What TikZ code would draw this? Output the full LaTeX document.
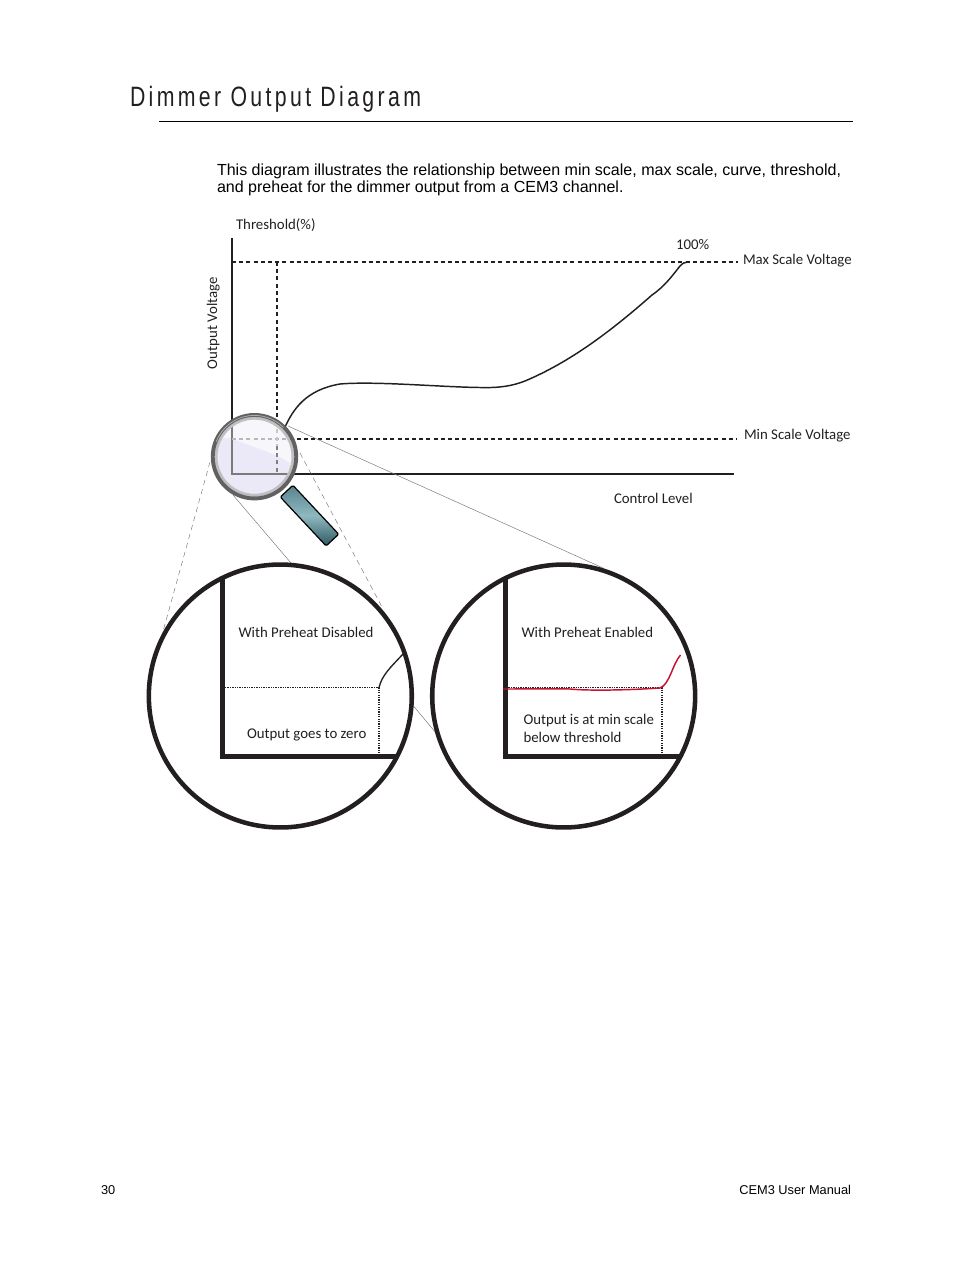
\documentclass[tikz,border=0pt]{standalone}
\usepackage{fontspec}
\setmainfont{Liberation Sans}
\newfontfamily\dfont{Carlito}
\newfontfamily\tfont[FakeStretch=0.76,LetterSpace=12]{Liberation Sans}
\usetikzlibrary{shapes.geometric,shadings,calc}
\definecolor{ink}{HTML}{231F20}
\definecolor{cred}{HTML}{C4122F}
\definecolor{guide}{HTML}{777777}
\definecolor{tealdark}{HTML}{3A6E7A}
\definecolor{teallight}{HTML}{8FB8BF}
\definecolor{lens}{HTML}{EBE9F7}
\tikzset{
  every node/.style={inner sep=0pt,outer sep=0pt},
  lbl/.style={font=\dfont\fontsize{11.12}{13.6}\selectfont,text=ink,anchor=base west,align=left},
  body/.style={font=\fontsize{12.03}{12.6}\selectfont,text=black,anchor=base west},
  foot/.style={font=\fontsize{9.6}{11}\selectfont,text=black},
  axis/.style={draw=ink,line width=1.1pt},
  dash1/.style={draw=ink,line width=1.3pt,dash pattern=on 3pt off 2.4pt},
  dotline/.style={draw=ink,line width=.8pt,dash pattern=on 1pt off .8pt},
  thickaxis/.style={draw=ink,line width=3.75pt,line cap=butt,line join=miter},
  bigcircle/.style={circle,draw=ink,line width=3.4pt,minimum size=197.2pt},
  guideline/.style={draw=guide,line width=.35pt},
  guidedash/.style={draw=guide,line width=.35pt,dash pattern=on 4pt off 3pt},
  lensaxis/.style={draw=black!52,line width=1.1pt},
  lensdash/.style={line width=1.2pt,dash pattern=on 3pt off 2.4pt},
}
\begin{document}
\begin{tikzpicture}[x=0.75pt,y=-0.75pt]
\useasboundingbox (0,0) rectangle (954,1272);
% heading
\node[anchor=base west,font=\tfont\fontsize{21}{24}\selectfont,text=ink] (title) at (130,106) {Dimmer Output Diagram};
\draw[line width=.6pt,draw=black] (159,121.6) -- (853,121.6);
\node[body] (para1) at (217,175) {This diagram illustrates the relationship between min scale, max scale, curve, threshold,};
\node[body] (para2) at (217,192) {and preheat for the dimmer output from a CEM3 channel.};
\node[foot,anchor=base west] (pageno) at (101,1194) {30};
\node[foot,anchor=base east] (manual) at (851,1194) {CEM3 User Manual};
% main graph
\coordinate (o) at (232,474);
\coordinate (ytop) at (232,238);
\coordinate (xend) at (734,474);
\coordinate (maxl) at (232,262);
\coordinate (maxr) at (738,262);
\coordinate (minl) at (232,439);
\coordinate (minr) at (737,439);
\coordinate (thtop) at (277,262);
\coordinate (thbot) at (277,474);
\draw[axis] (ytop) -- (o) -- (xend);
\draw[dash1] (maxl) -- (maxr);
\draw[dash1] (minl) -- (minr);
\draw[dash1] (thtop) -- (thbot);
\draw[draw=ink,line width=1.1pt] (285,427) .. controls (293,410) and (305,390) .. (340,384)
  .. controls (375,381) and (440,387) .. (480,387.5)
  .. controls (500,388) and (512,386) .. (525,381)
  .. controls (570,362) and (610,332) .. (652,295)
  .. controls (665,286) and (672,276) .. (680,266)
  .. controls (683,263) and (685,262) .. (688,262);
\node[lbl] (thr) at (236,229) {Threshold(\%)};
\node[lbl] (hundred) at (676,249) {100\%};
\node[lbl] (maxv) at (743,264) {Max Scale Voltage};
\node[lbl] (minv) at (744,439) {Min Scale Voltage};
\node[lbl] (ctl) at (614,503) {Control Level};
\node[lbl,rotate=90] (outv) at (217,369) {Output Voltage};
% guides
\coordinate (ga1) at (210,462); \coordinate (ga2) at (162,635);
\coordinate (gb1) at (300,453); \coordinate (gb2) at (382,607);
\coordinate (gc1) at (233,495); \coordinate (gc2) at (291,563);
\coordinate (gd1) at (288,426); \coordinate (gd2) at (603,568);
\coordinate (ge1) at (411,703); \coordinate (ge2) at (436,733);
\draw[guidedash] (ga1) -- (ga2);
\draw[guidedash] (gb1) -- (gb2);
\draw[guideline] (gc1) -- (gc2);
\draw[guideline] (gd1) -- (gd2);
\draw[guideline] (ge1) -- (ge2);
% magnifier handle
\begin{scope}[shift={(309.5,515.6)},rotate=-46.9]
\shade[rounded corners=1pt,top color=tealdark!85!white,bottom color=tealdark!80!black,middle color=teallight] (-33.5,-8.6) rectangle (33.5,8.6);
\draw[draw=black,line width=.9pt,rounded corners=1pt] (-33.5,-8.6) rectangle (33.5,8.6);
\end{scope}
% magnifier lens and ring
\coordinate (lc) at (254.5,456.7);
\begin{scope}
\clip (lc) circle[radius=37];
\fill[fill=lens] (lc) circle[radius=37];
\fill[fill=white,fill opacity=.6] (205,400) -- (305,400) -- (305,476) .. controls (288,456) and (265,452) .. (231,438) -- (205,438) -- cycle;
\draw[lensaxis] (232,415) -- (o) -- (300,474);
\draw[lensdash,draw=black!28] (minl) -- (296,439);
\draw[lensdash,draw=black!22] (277,415) -- (277,446);
\draw[lensdash,draw=black!50] (277,446) -- (thbot);
\end{scope}
\fill[fill=black!25,even odd rule] (lc) circle[radius=40] (lc) circle[radius=37];
\fill[fill=black!62,even odd rule] (lc) circle[radius=43.7] (lc) circle[radius=39.8];
\draw[draw=black!25,line width=.6pt,opacity=.8] ($(lc)+(-38.3,-15)$) arc[start angle=201,end angle=315,radius=41];
% left inset
\node[bigcircle] (cl) at (280.3,696) {};
\coordinate (la) at (222.5,578);
\coordinate (lb) at (222.5,756.5);
\coordinate (lc2) at (398,756.5);
\draw[thickaxis] (la) -- (lb) -- (lc2);
\coordinate (ld) at (225,687.7);
\coordinate (le) at (379,687.7);
\coordinate (lf) at (379,754);
\draw[dotline] (ld) -- (le) -- (lf);
\draw[draw=ink,line width=1pt] (le) .. controls (382,675) and (390,668) .. (403,654);
\node[lbl] (wpd) at (238.5,637) {With Preheat Disabled};
\node[lbl] (ogz) at (247,738) {Output goes to zero};
% right inset
\node[bigcircle] (cr) at (563.7,696) {};
\coordinate (ra) at (505.5,578);
\coordinate (rb) at (505.5,756.5);
\coordinate (rc) at (681,756.5);
\draw[thickaxis] (ra) -- (rb) -- (rc);
\coordinate (rd) at (506,687.3);
\coordinate (re) at (662,687.3);
\coordinate (rf) at (662,754);
\draw[dotline] (rd) -- (re) -- (rf);
\draw[draw=cred,line width=1.1pt] (503,689) .. controls (530,689) and (555,688.5) .. (570,689)
  .. controls (590,691) and (630,690) .. (660,688)
  .. controls (670,684) and (672,665) .. (680.5,655);
\node[lbl] (wpe) at (521.5,637) {With Preheat Enabled};
\node[lbl] (omin) at (523.5,724) {Output is at min scale};
\node[lbl] (bth) at (523.5,742) {below threshold};
\end{tikzpicture}
\end{document}
